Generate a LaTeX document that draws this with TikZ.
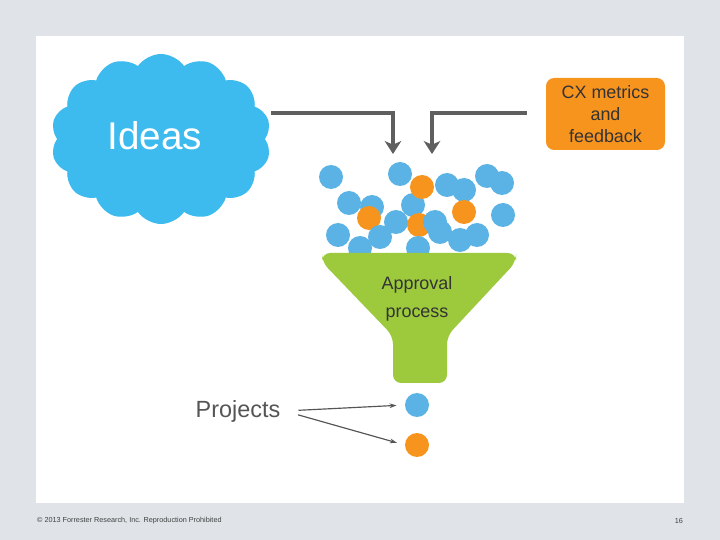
\documentclass[tikz,border=0pt]{standalone}
\usepackage{fontspec}
\setmainfont{Liberation Sans}
\usetikzlibrary{arrows.meta,shapes.symbols}
\definecolor{slidegray}{HTML}{E0E4E8}
\definecolor{ideablue}{HTML}{3DBBEF}
\definecolor{dotblue}{HTML}{5AB3E4}
\definecolor{cxorange}{HTML}{F7941E}
\definecolor{funnelgreen}{HTML}{9DCA3C}
\definecolor{feedgray}{HTML}{5F5F5F}
\definecolor{textgray}{HTML}{555555}
\tikzset{
  ball/.style={circle,minimum size=0.72cm,inner sep=0pt},
  feed/.style={draw=feedgray,line width=4pt,-{Stealth[length=11pt,width=14pt,inset=3pt]}},
  pointer/.style={draw=textgray,line width=1pt,-{Stealth[length=6pt,width=4pt]}},
}

\begin{document}
\begin{tikzpicture}[x=0.03cm,y=-0.03cm]
			%%%%% START %%%%%
			
			\fill[slidegray] (0,0) rectangle (720,540);
			\useasboundingbox (0,0) rectangle (720,540);
			\fill[white] (36,36) rectangle (684,503);
			
			% ideas cloud and feedback box
			\node[cloud, cloud puffs=14, cloud puff arc=110, aspect=1.3, fill=ideablue, minimum width=6.6cm, minimum height=5.1cm] (cloud) at (161,139) {};
			\node[text=white, font=\fontsize{33}{40}\selectfont] (ideas) at (155,136) {Ideas};
			\node[fill=cxorange, rounded corners=7pt, minimum width=3.57cm, minimum height=2.16cm, align=center, text=black!80, font=\fontsize{15.3}{18.7}\selectfont] (cx) at (605.5,114) {CX metrics\\and\\feedback};
			
			\coordinate (bendL) at (393,113);
			\coordinate (dropL) at (393,154);
			\coordinate (bendR) at (432,113);
			\coordinate (dropR) at (432,154);
			\draw[feed, shorten <=5pt] (cloud.east |- bendL) -- (bendL) -- (dropL);
			\draw[feed, shorten <=16pt] (cx.west |- bendR) -- (bendR) -- (dropR);
			
			% ideas in the funnel
			\foreach \x/\y/\c [count=\i] in {331/177/dotblue, 400/174/dotblue, 447/185/dotblue, 464/190/dotblue, 487/176/dotblue, 502/183/dotblue,
				349/203/dotblue, 372/207/dotblue, 413/205/dotblue, 422/187/cxorange, 369/218/cxorange, 396/222/dotblue, 419/225/cxorange,
				435/222/dotblue, 464/212/cxorange, 503/215/dotblue, 338/235/dotblue, 380/237/dotblue, 360/248/dotblue, 418/248/dotblue,
				440/232/dotblue, 460/240/dotblue, 477/235/dotblue}
				\node[ball, fill=\c] (idea\i) at (\x,\y) {};
			
			\fill[funnelgreen, rounded corners=7pt] (322,253) -- (516,253) -- (516,262) -- (447,336) -- (447,383) -- (393,383) -- (393,336) -- (322,262) -- cycle;
			\node[align=center, text=black!80, font=\fontsize{15.3}{24}\selectfont] (approval) at (417,299) {Approval\\process};
			
			% projects out of the funnel
			\node[ball, fill=dotblue] (pblue) at (417,405) {};
			\node[ball, fill=cxorange] (porange) at (417,445) {};
			\node[text=textgray, font=\fontsize{20}{24}\selectfont] (projects) at (238,411) {Projects};
			\draw[pointer, shorten <=12pt, shorten >=7pt] (projects.east) -- (pblue.west);
			\draw[pointer, shorten <=12pt, shorten >=7pt] (projects.east) -- (porange.west);
			
			\node[anchor=west, text=black!75, font=\fontsize{6.2}{7}\selectfont] (copyright) at (33,521) {\textcopyright{} 2013 Forrester Research, Inc. Reproduction Prohibited};
			\node[anchor=east, text=black!75, font=\fontsize{6.2}{7}\selectfont] (page) at (687,521) {16};
			
			%%%%% END %%%%%
\end{tikzpicture}
\end{document}
